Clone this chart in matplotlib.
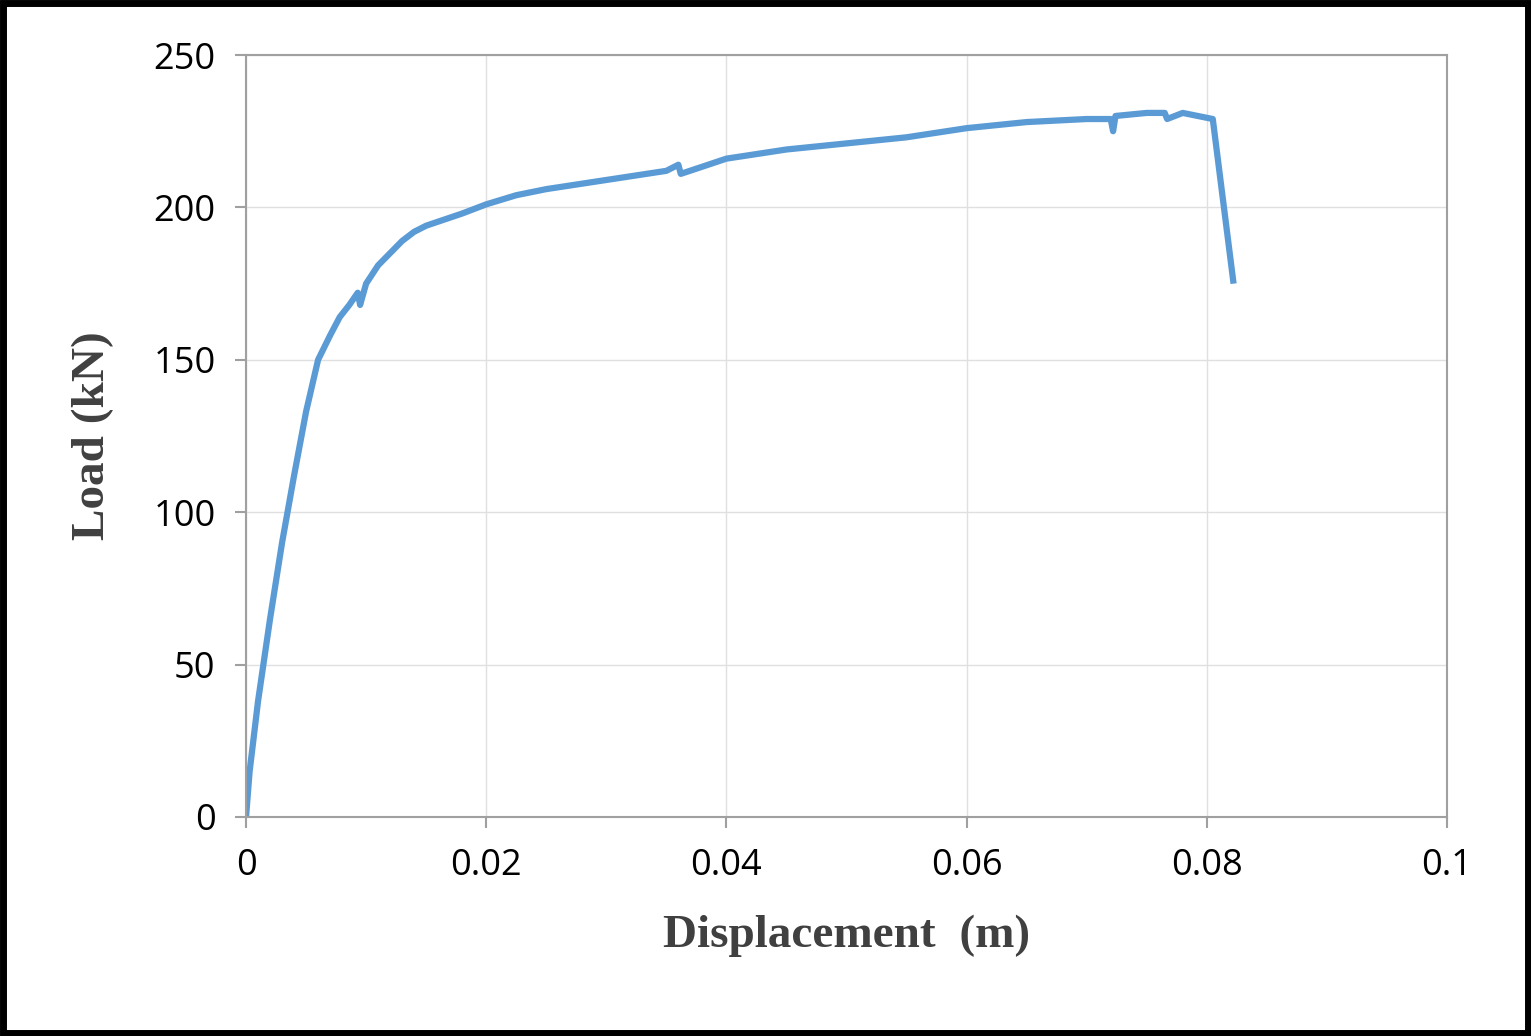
import matplotlib.pyplot as plt
from matplotlib.patches import Rectangle

disp = [0, 0.0003, 0.001, 0.002, 0.003, 0.004, 0.005, 0.006, 0.007, 0.0078, 0.0086, 0.0093,
        0.0095, 0.0100, 0.011, 0.012, 0.013, 0.014, 0.015, 0.0165, 0.018, 0.020, 0.0225,
        0.025, 0.030, 0.035, 0.036, 0.0362, 0.040, 0.045, 0.050, 0.055, 0.060, 0.065,
        0.070, 0.072, 0.0722, 0.0724, 0.075, 0.0765, 0.0767, 0.078, 0.0805, 0.0822]
load = [0, 15, 38, 65, 90, 112, 133, 150, 158, 164, 168, 172,
        168, 175, 181, 185, 189, 192, 194, 196, 198, 201, 204,
        206, 209, 212, 214, 211, 216, 219, 221, 223, 226, 228,
        229, 229, 225, 230, 231, 231, 229, 231, 229, 176]

fig = plt.figure(figsize=(15.31, 10.36), dpi=100)
fig.patches.append(Rectangle((0.002, 0.003), 0.996, 0.994, transform=fig.transFigure,
                             fill=False, edgecolor='black', linewidth=5))
ax = fig.add_axes([0.1607, 0.2114, 0.7844, 0.7355])
ax.plot(disp, load, color='#5b9bd5', linewidth=4.5)
ax.set_xlim(0, 0.1)
ax.set_ylim(0, 250)
ax.set_xticks([0, 0.02, 0.04, 0.06, 0.08, 0.1])
ax.set_xticklabels(['0', '0.02', '0.04', '0.06', '0.08', '0.1'])
ax.set_yticks([0, 50, 100, 150, 200, 250])
ax.grid(True, color='#e0e0e0', linewidth=1)
ax.set_axisbelow(True)
for s in ax.spines.values():
    s.set_color('#a0a0a0')
    s.set_linewidth(1.5)
ax.tick_params(colors='#a0a0a0', labelcolor='black', labelsize=26, length=8, width=1.5, pad=14)
for t in ax.get_xticklabels() + ax.get_yticklabels():
    t.set_family('Open Sans')
ax.set_xlabel('Displacement  (m)', fontsize=34, fontweight='bold', family='Liberation Serif',
              color='#404040', labelpad=22)
ax.set_ylabel('Load (kN)', fontsize=34, fontweight='bold', family='Liberation Serif',
              color='#404040', labelpad=28)
fig.savefig('out.png')
